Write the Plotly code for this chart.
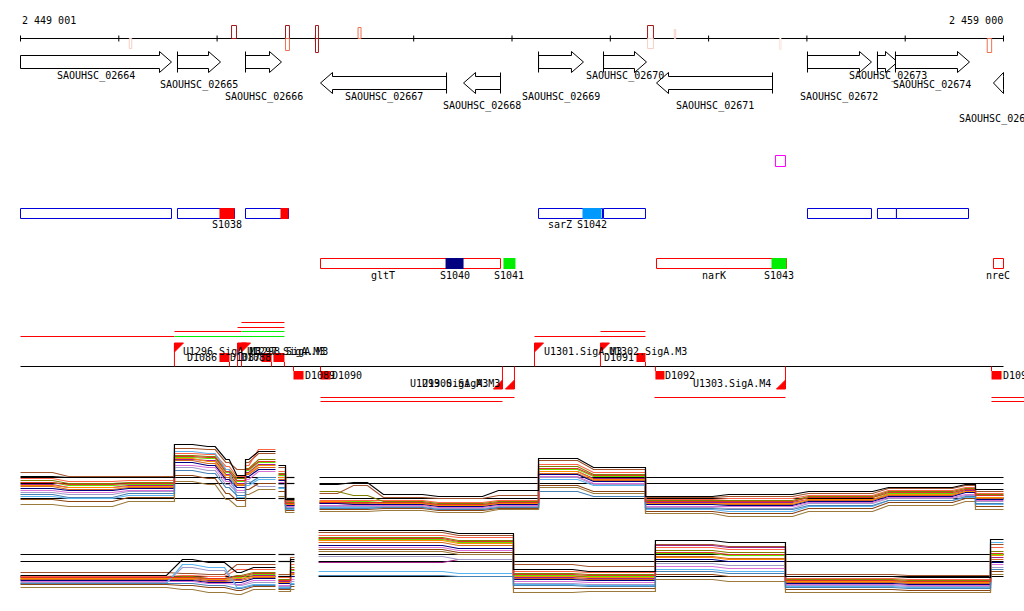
import plotly.graph_objects as go

# ---------------- data ----------------
WIN_START = 2449001
WIN_LEN = 10000
TICK_STEP = 1000
AXIS_LABELS = ["2 449 001", "2 459 000"]

# genes (annotation track)
GENE_NAMES = ["SAOUHSC_02664", "SAOUHSC_02665", "SAOUHSC_02666", "SAOUHSC_02667",
              "SAOUHSC_02668", "SAOUHSC_02669", "SAOUHSC_02670", "SAOUHSC_02671",
              "SAOUHSC_02672", "SAOUHSC_02673", "SAOUHSC_02674", "SAOUHSC_02675"]
GENE_START = [2448900, 2450598, 2451290, 2452053, 2453508, 2454271,
              2454932, 2455471, 2457007, 2457719, 2457902, 2458899]
GENE_END = [2450537, 2451036, 2451656, 2453335, 2453884, 2454728,
            2455369, 2456651, 2457658, 2457923, 2458655, 2459100]
GENE_STRAND = ["+", "+", "+", "-", "-", "+", "+", "-", "+", "+", "+", "-"]
GENE_LABEL_ROW = [0, 1, 2, 2, 3, 2, 0, 3, 2, 0, 1, 4]

# SNP / variant marks on the coordinate axis
VAR_POS = [2450120, 2451173, 2451717, 2452017, 2452450, 2455410, 2455659, 2456731, 2458858]
VAR_LEN = [25, 50, 40, 30, 30, 60, 15, 15, 45]
VAR_UP = [0, 13, 13, 13, 11, 13, 9, 0, 0]
VAR_DOWN = [10, 0, 12, 14, 0, 10, 0, 11, 14]
VAR_UP_COLOR = ["#f6d0c6", "#a01818", "#a01818", "#a01818", "#f07050", "#a01818", "#f6d0c6", "#fbe4de", "#f07050"]
VAR_DOWN_COLOR = ["#f6d0c6", "#a01818", "#f07050", "#a01818", "#f07050", "#f6d0c6", "#f6d0c6", "#fbe4de", "#f07050"]

# single magenta feature
MAGENTA_START, MAGENTA_END = 2456681, 2456783

# transcript blocks: blue (coding) row and red (ncRNA/UTR) row
BLUE_BOX_START = [2449001, 2450598, 2451290, 2454271, 2454932, 2457007, 2457719, 2457912]
BLUE_BOX_END = [2450537, 2451178, 2451727, 2454922, 2455359, 2457658, 2457912, 2458645]
RED_BOX_START = [2452053, 2455471, 2458899]
RED_BOX_END = [2453884, 2456793, 2459001]

SIG_NAMES = ["S1038", "", "S1042", "S1040", "S1041", "S1043"]
SIG_START = [2451025, 2451646, 2454718, 2453325, 2453914, 2456641]
SIG_END = [2451178, 2451727, 2454911, 2453508, 2454036, 2456793]
SIG_ROW = ["blue", "blue", "blue", "red", "red", "red"]
SIG_COLOR = ["#ff0000", "#ff0000", "#0099ff", "#000080", "#00ee00", "#00ee00"]

NAMED_LABELS = ["sarZ", "gltT", "narK", "nreC"]
NAMED_POS = [2454494, 2452689, 2456056, 2458950]
NAMED_ROW = ["blue", "red", "red", "red"]

# transcription units
TU_START = [2449001, 2450567, 2450567, 2451249, 2451209, 2451249, 2454230, 2454901,
            2452053, 2452053, 2455450, 2458879, 2458879]
TU_END = [2450567, 2451686, 2451249, 2451686, 2451686, 2451686, 2455359, 2455359,
          2454026, 2453904, 2456783, 2459215, 2459215]
TU_STRAND = ["+", "+", "+", "+", "+", "+", "+", "+", "-", "-", "-", "-", "-"]
TU_LEVEL = [0, 0, 1, 1, 2, 3, 0, 1, 0, 1, 0, 0, 1]
TU_COLOR = ["#ff0000", "#00ee00", "#ff0000", "#00ee00", "#ff0000", "#ff0000", "#ff0000",
            "#ff0000", "#ff0000", "#ff0000", "#ff0000", "#ff0000", "#ff0000"]

# promoters
PROM_NAMES = ["U1296.SigA.M3", "U1297.SigA.M3", "U1298.SigA.M3", "U1299.SigA.M3",
              "U1300.SigA.M3", "U1301.SigA.M3", "U1302.SigA.M3", "U1303.SigA.M4"]
PROM_POS = [2450567, 2451209, 2451249, 2453904, 2454026, 2454230, 2454901, 2456783]
PROM_STRAND = ["+", "+", "+", "-", "-", "+", "+", "-"]

# terminators
TERM_NAMES = ["D1086", "D1087", "D1088", "D1089", "D1090", "D1091", "D1092", "D1093"]
TERM_START = [2451025, 2451453, 2451574, 2451778, 2452053, 2455267, 2455460, 2458879]
TERM_END = [2451127, 2451555, 2451686, 2451880, 2452155, 2455359, 2455552, 2458981]
TERM_STRAND = ["+", "+", "+", "-", "-", "+", "-", "-"]

# expression profiles (panel 1): probe segments and per-sample levels
P1_SEGS = [(2449001, 2449408), (2449408, 2450018), (2450018, 2450567), (2450567, 2450832),
           (2450832, 2451056), (2451056, 2451158), (2451158, 2451290), (2451290, 2451341),
           (2451341, 2451595), (2451625, 2451697), (2451697, 2451788),
           (2452043, 2452307), (2452307, 2452612), (2452612, 2453172), (2453172, 2453782),
           (2453782, 2454271), (2454271, 2454749), (2454749, 2455359), (2455359, 2456122),
           (2456122, 2456936), (2456936, 2457750), (2457750, 2458563), (2458563, 2458716),
           (2458716, 2459001)]
P1_GAP_AFTER = [8, 10]
P1_SHARP_AFTER = [2, 6, 9, 15, 17, 22]
P1_REF = [38, 32, 17]
P1_VALUES = [
    [39, 38, 38, 71, 69, 56, 40, 56, 64, 50, 16, 31, 33, 21, 19, 25, 57, 48, 19, 21, 24, 28, 31, 26],
    [43, 39, 39, 67, 66, 53, 46, 53, 62, 48, 15, 22, 30, 18, 17, 20, 55, 46, 18, 19, 22, 27, 30, 24],
    [37, 34, 35, 62, 61, 49, 39, 50, 66, 44, 14, 15, 15, 15, 13, 15, 51, 43, 16, 17, 20, 25, 28, 22],
    [35, 32, 33, 60, 59, 46, 37, 47, 56, 42, 13, 24, 20, 14, 12, 14, 49, 41, 15, 15, 19, 24, 27, 21],
    [33, 30, 31, 58, 57, 43, 34, 45, 53, 40, 12, 14, 14, 13, 11, 13, 46, 39, 14, 14, 18, 22, 26, 20],
    [31, 28, 30, 56, 55, 41, 32, 43, 51, 38, 11, 13, 13, 12, 10, 12, 44, 37, 13, 13, 16, 21, 25, 18],
    [29, 26, 28, 55, 52, 38, 30, 41, 48, 36, 10, 12, 12, 11, 9, 11, 42, 35, 12, 11, 15, 20, 24, 17],
    [27, 25, 27, 53, 50, 36, 28, 39, 46, 35, 10, 12, 11, 11, 9, 11, 41, 34, 11, 10, 14, 19, 23, 16],
    [23, 21, 24, 48, 45, 31, 23, 34, 29, 31, 8, 9, 9, 9, 7, 9, 38, 31, 8, 7, 12, 17, 20, 14],
    [30, 28, 29, 57, 54, 40, 31, 42, 50, 38, 11, 14, 13, 12, 10, 12, 44, 36, 12, 12, 16, 21, 24, 18],
    [25, 23, 25, 50, 48, 34, 25, 36, 44, 33, 9, 10, 10, 10, 8, 10, 39, 32, 9, 9, 13, 18, 21, 15],
    [19, 17, 20, 64, 62, 46, 18, 30, 36, 27, 6, 8, 8, 8, 6, 8, 36, 30, 6, 4, 9, 15, 18, 11],
    [16, 14, 18, 40, 37, 22, 15, 26, 32, 24, 5, 6, 6, 7, 5, 7, 30, 24, 4, 2, 7, 13, 17, 9],
    [11, 9, 14, 34, 31, 16, 9, 21, 26, 19, 3, 4, 4, 5, 3, 6, 28, 22, 2, -1, 4, 10, 14, 6],
    [21, 18, 22, 45, 42, 28, 20, 32, 38, 28, 7, 7, 7, 8, 6, 8, 24, 19, 7, 6, 10, 15, 19, 12],
    [33, 31, 32, 59, 58, 44, 35, 46, 54, 41, 12, 13, 13, 13, 11, 13, 47, 40, 14, 14, 18, 23, 26, 20],
]

# expression profiles (panel 2)
P2_SEGS = [(2449001, 2450567), (2450567, 2450832), (2450832, 2451158), (2451158, 2451290),
           (2451290, 2451595), (2451625, 2451748), (2451748, 2451788),
           (2452033, 2453375), (2453375, 2454016), (2454016, 2454698), (2454698, 2455460),
           (2455460, 2456122), (2456122, 2456783), (2456783, 2457953), (2457953, 2458869),
           (2458869, 2459001)]
P2_GAP_AFTER = [4, 6]
P2_SHARP_AFTER = [5, 8, 10, 12, 14]
P2_REF = [43, 36, 21]
P2_VALUES = [
    [22, 38, 35, 25, 30, 21, 38, 67, 64, 28, 26, 57, 55, 21, 20, 58],
    [25, 24, 23, 33, 33, 23, 40, 65, 62, 33, 31, 53, 51, 23, 22, 53],
    [21, 22, 21, 28, 28, 20, 33, 62, 60, 26, 25, 50, 48, 19, 18, 50],
    [20, 21, 19, 22, 25, 18, 30, 60, 57, 24, 23, 47, 45, 18, 17, 46],
    [19, 20, 18, 20, 23, 17, 27, 58, 55, 22, 21, 44, 42, 17, 16, 43],
    [18, 19, 17, 18, 22, 16, 25, 35, 38, 20, 19, 52, 50, 16, 15, 40],
    [18, 18, 16, 17, 20, 15, 23, 55, 52, 19, 18, 41, 39, 15, 14, 38],
    [17, 17, 15, 15, 19, 14, 21, 52, 49, 18, 17, 38, 36, 14, 13, 35],
    [15, 30, 27, 12, 15, 11, 16, 41, 38, 14, 13, 34, 32, 12, 11, 30],
    [19, 19, 18, 19, 21, 15, 24, 57, 54, 21, 20, 40, 38, 16, 15, 42],
    [16, 16, 14, 13, 17, 12, 18, 50, 47, 16, 15, 31, 29, 13, 12, 33],
    [14, 33, 30, 10, 13, 10, 14, 26, 24, 13, 12, 28, 26, 11, 10, 55],
    [13, 12, 10, 7, 11, 8, 11, 48, 45, 9, 9, 23, 21, 8, 7, 26],
    [10, 8, 5, 3, 8, 6, 8, 46, 43, 5, 6, 18, 16, 5, 5, 23],
    [14, 14, 12, 9, 12, 9, 13, 22, 21, 12, 11, 26, 24, 10, 9, 28],
    [20, 20, 19, 21, 24, 17, 28, 59, 56, 23, 22, 45, 43, 17, 16, 44],
]
EXPR_COLORS = ["#000000", "#a0522d", "#ff6347", "#808000", "#66dd00", "#a0208a", "#d2691e",
               "#000080", "#a09ac8", "#ff8c00", "#da70d6", "#5ab4f0", "#8b4513", "#9c7a3c",
               "#4682b4", "#e0302a"]

# ---------------- layout helpers ----------------
W, H = 1024, 611
PX_LEFT, PX_RIGHT = 20, 1003
BPP = WIN_LEN / (PX_RIGHT - PX_LEFT)
X0 = WIN_START - (PX_LEFT + 0.5) * BPP
X1 = X0 + W * BPP
AXIS_END = WIN_START + WIN_LEN
FONT = dict(family="DejaVu Sans Mono", size=10, color="black")
SOFT_PX = 8  # half-width of a gradual transition between probe segments

shapes, ann = [], []
fig = go.Figure()


def line(xa, ya, xb, yb, color, width=1):
    shapes.append(dict(type="line", xref="x", yref="y", x0=xa, y0=ya, x1=xb, y1=yb,
                       line=dict(color=color, width=width)))


def rect(xa, ya, xb, yb, line_color=None, fill=None, width=1):
    shapes.append(dict(type="rect", xref="x", yref="y", x0=xa, y0=ya, x1=xb, y1=yb,
                       line=dict(color=line_color or "rgba(0,0,0,0)", width=width if line_color else 0),
                       fillcolor=fill or "rgba(0,0,0,0)"))


def text(x, y, s, anchor="center"):
    ann.append(dict(x=x, y=y, xref="x", yref="y", text=s, showarrow=False, xanchor=anchor,
                    yanchor="middle", font=FONT, borderpad=0))


def poly(xs, ys, color, fill):
    fig.add_trace(go.Scatter(x=xs, y=ys, mode="lines", fill="toself", fillcolor=fill,
                             line=dict(color=color, width=1), hoverinfo="skip", showlegend=False))


# ---------------- coordinate axis ----------------
line(WIN_START, 38.5, AXIS_END, 38.5, "black", 1)
for k in range(WIN_LEN // TICK_STEP + 1):
    p = WIN_START + k * TICK_STEP
    line(p, 35.5, p, 41.5, "black", 1)
text(WIN_START, 20, AXIS_LABELS[0], "left")
text(AXIS_END, 20, AXIS_LABELS[1], "right")

for p, ln, up, dn, cu, cd in zip(VAR_POS, VAR_LEN, VAR_UP, VAR_DOWN, VAR_UP_COLOR, VAR_DOWN_COLOR):
    if up:
        rect(p - ln / 2, 38.5 - up, p + ln / 2, 38.5, cu, None, 1)
    if dn:
        rect(p - ln / 2, 38.5, p + ln / 2, 38.5 + dn, cd, None, 1)

# ---------------- genes ----------------
LABEL_ROW_Y = [76, 85, 97, 106, 119]
HEAD = 12 * BPP
for name, s, e, st, lr in zip(GENE_NAMES, GENE_START, GENE_END, GENE_STRAND, GENE_LABEL_ROW):
    cs, ce = max(s, WIN_START), min(e, AXIS_END)
    if st == "+":
        yt, yb, ht, hb = 55.5, 68.5, 51.5, 72.5
        hx = max(cs, ce - HEAD)
        xs = [cs, hx, hx, ce, hx, hx, cs, cs]
        ys = [yt, yt, ht, (ht + hb) / 2, hb, yb, yb, yt]
        poly(xs, ys, "black", "white")
        if s >= WIN_START:
            line(cs, ht, cs, hb, "black", 1)
    else:
        yt, yb, ht, hb = 76.5, 89.5, 72.5, 93.5
        hx = min(ce, cs + HEAD)
        xs = [ce, hx, hx, cs, hx, hx, ce, ce]
        ys = [yt, yt, ht, (ht + hb) / 2, hb, yb, yb, yt]
        poly(xs, ys, "black", "white")
        if e <= AXIS_END:
            line(ce, ht, ce, hb, "black", 1)
    text((cs + ce) / 2, LABEL_ROW_Y[lr], name)

# magenta feature
rect(MAGENTA_START, 155.5, MAGENTA_END, 166.5, "#ff00ff", None, 1)

# ---------------- transcript rows ----------------
ROW_Y = {"blue": (208.5, 218.5, 224), "red": (258.5, 268.5, 275)}
for s, e in zip(BLUE_BOX_START, BLUE_BOX_END):
    rect(s, ROW_Y["blue"][0], e, ROW_Y["blue"][1], "#0000dd", "white", 1)
for s, e in zip(RED_BOX_START, RED_BOX_END):
    rect(s, ROW_Y["red"][0], e, ROW_Y["red"][1], "#ff0000", "white", 1)
for n, s, e, r, c in zip(SIG_NAMES, SIG_START, SIG_END, SIG_ROW, SIG_COLOR):
    y0, y1, yl = ROW_Y[r]
    rect(s, y0 - 0.5, e, y1 + 0.5, None, c)
    if n:
        text((s + e) / 2, yl, n)
for n, p, r in zip(NAMED_LABELS, NAMED_POS, NAMED_ROW):
    text(p, ROW_Y[r][2], n)

# ---------------- transcription units / promoters / terminators ----------------
STRAND_Y = 366.5
TU_UP_Y = [336.5, 331.5, 327.5, 322.5]
TU_DN_Y = [397.5, 401.5]
for s, e, st, lv, c in zip(TU_START, TU_END, TU_STRAND, TU_LEVEL, TU_COLOR):
    y = TU_UP_Y[lv] if st == "+" else TU_DN_Y[lv]
    line(s, y, e, y, c, 1)

line(WIN_START, STRAND_Y, AXIS_END, STRAND_Y, "black", 1)

FLAG = 9 * BPP
for n, p, st in zip(PROM_NAMES, PROM_POS, PROM_STRAND):
    if st == "+":
        line(p, STRAND_Y, p, 343, "#ff0000", 1)
        poly([p, p + FLAG, p, p], [343, 343, 352, 343], "#ff0000", "#ff0000")
        text(p + 8 * BPP, 351, n, "left")
    else:
        line(p, STRAND_Y, p, 389, "#ff0000", 1)
        poly([p, p - FLAG, p, p], [389, 389, 380, 389], "#ff0000", "#ff0000")
        text(p - 13 * BPP, 383, n, "right")

for n, s, e, st in zip(TERM_NAMES, TERM_START, TERM_END, TERM_STRAND):
    if st == "+":
        rect(s, 353, e, 362, None, "#ff0000")
        line(e, 362, e, STRAND_Y, "#ff0000", 1)
        text(s - 1 * BPP, 357.5, n, "right")
    else:
        rect(s, 371, e, 379.5, None, "#ff0000")
        line(s, STRAND_Y, s, 371, "#ff0000", 1)
        text(e, 375.5, n, "left")


# ---------------- expression panels ----------------
def build(segs, gaps, sharp, vals):
    xs, ys = [], []
    n = len(segs)
    for i, ((a, b), v) in enumerate(zip(segs, vals)):
        soft_left = i > 0 and (i - 1) not in gaps and (i - 1) not in sharp
        soft_right = i < n - 1 and i not in gaps and i not in sharp
        inset = min(SOFT_PX * BPP, (b - a) / 3)
        xs += [a + (inset if soft_left else 0), b - (inset if soft_right else 0)]
        ys += [v, v]
        if i in gaps:
            xs.append(None)
            ys.append(None)
    return xs, ys


def ref_blocks(segs, gaps):
    blocks, start = [], segs[0][0]
    for i, (a, b) in enumerate(segs):
        if i in gaps or i == len(segs) - 1:
            blocks.append((start, b))
            if i + 1 < len(segs):
                start = segs[i + 1][0]
    return blocks


for segs, gaps, sharp, vals, refs, ax in [
        (P1_SEGS, P1_GAP_AFTER, P1_SHARP_AFTER, P1_VALUES, P1_REF, "y2"),
        (P2_SEGS, P2_GAP_AFTER, P2_SHARP_AFTER, P2_VALUES, P2_REF, "y3")]:
    for r in refs:
        xs, ys = [], []
        for a, b in ref_blocks(segs, gaps):
            xs += [a, b, None]
            ys += [r, r, None]
        fig.add_trace(go.Scatter(x=xs, y=ys, mode="lines", yaxis=ax, connectgaps=False,
                                 line=dict(color="black", width=1.2),
                                 hoverinfo="skip", showlegend=False))
    order = list(range(1, len(vals))) + [0]
    for i in order:
        xs, ys = build(segs, gaps, sharp, vals[i])
        fig.add_trace(go.Scatter(x=xs, y=ys, mode="lines", yaxis=ax, connectgaps=False,
                                 line=dict(color=EXPR_COLORS[i], width=1.2),
                                 hoverinfo="skip", showlegend=False))

fig.update_layout(
    width=W, height=H, margin=dict(l=0, r=0, t=0, b=0),
    paper_bgcolor="white", plot_bgcolor="white", showlegend=False,
    xaxis=dict(range=[X0, X1], visible=False, fixedrange=True),
    yaxis=dict(range=[H, 0], visible=False, domain=[0, 1], fixedrange=True),
    yaxis2=dict(range=[-4.5, 75.5], domain=[1 - 520 / H, 1 - 440 / H], visible=False, anchor="x", fixedrange=True),
    yaxis3=dict(range=[-4.5, 69.5], domain=[1 - 602 / H, 1 - 528 / H], visible=False, anchor="x", fixedrange=True),
    shapes=shapes, annotations=ann,
)

fig.write_html("out.html", config={"displayModeBar": False},
               post_script="document.body.style.margin='0px';document.body.style.overflow='hidden';")
